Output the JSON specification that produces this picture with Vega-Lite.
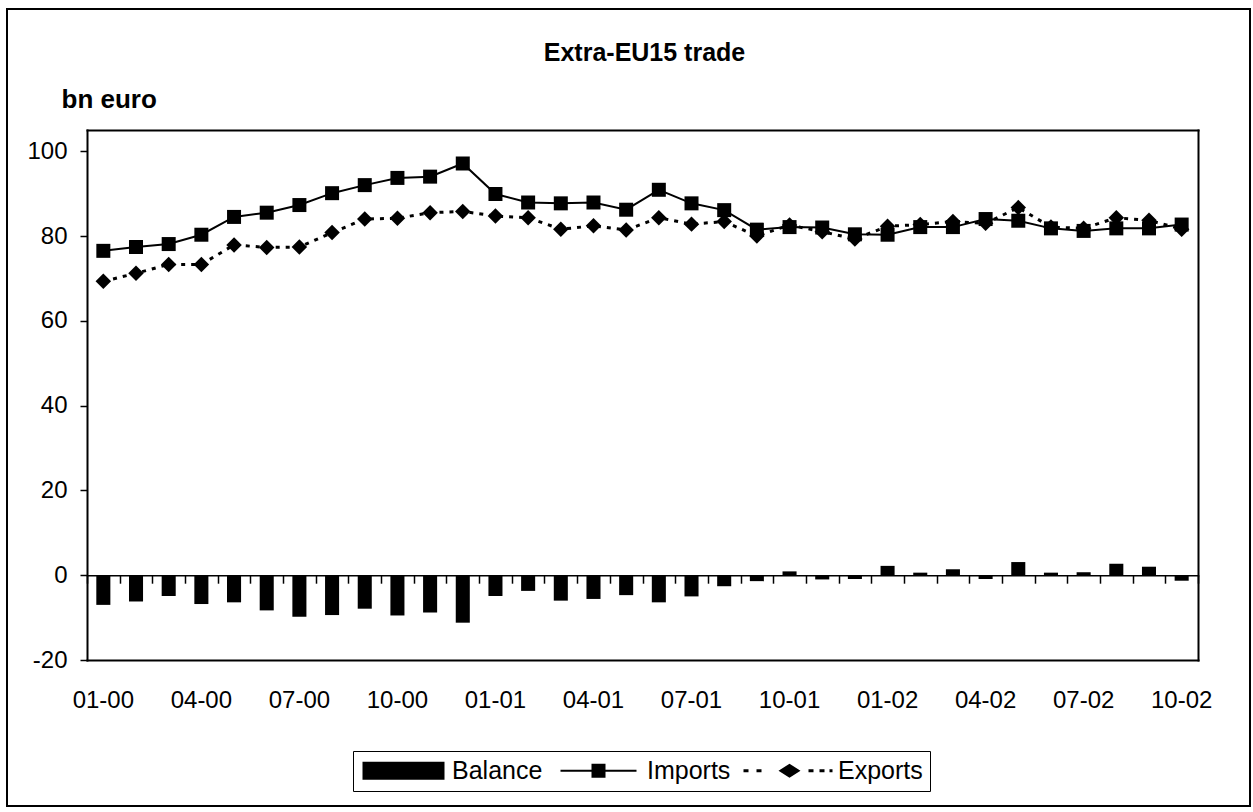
{
  "$schema": "https://vega.github.io/schema/vega-lite/v6.json",
  "width": 1243,
  "height": 797,
  "autosize": {"type": "none"},
  "padding": {"left": 7, "top": 9, "right": 3, "bottom": 6},
  "background": "white",
  "config": {
    "font": "Liberation Sans",
    "view": {"stroke": "black", "strokeWidth": 2},
    "axis": {"labelColor": "black", "tickColor": "black", "domainColor": "black", "titleColor": "black", "grid": false, "domainCap": "square"}
  },
  "title": {"text": "Extra-EU15 trade", "fontSize": 25, "fontWeight": "bold", "color": "black", "anchor": "middle", "baseline": "alphabetic", "offset": -77, "dx": 16},
  "data": {"values": [
    {"m": "01-00", "s": "Imports", "v": 76.5}, {"m": "02-00", "s": "Imports", "v": 77.4}, {"m": "03-00", "s": "Imports", "v": 78.1},
    {"m": "04-00", "s": "Imports", "v": 80.3}, {"m": "05-00", "s": "Imports", "v": 84.5}, {"m": "06-00", "s": "Imports", "v": 85.5},
    {"m": "07-00", "s": "Imports", "v": 87.3}, {"m": "08-00", "s": "Imports", "v": 90.1}, {"m": "09-00", "s": "Imports", "v": 92.0},
    {"m": "10-00", "s": "Imports", "v": 93.7}, {"m": "11-00", "s": "Imports", "v": 94.0}, {"m": "12-00", "s": "Imports", "v": 97.1},
    {"m": "01-01", "s": "Imports", "v": 89.9}, {"m": "02-01", "s": "Imports", "v": 87.9}, {"m": "03-01", "s": "Imports", "v": 87.7},
    {"m": "04-01", "s": "Imports", "v": 87.9}, {"m": "05-01", "s": "Imports", "v": 86.2}, {"m": "06-01", "s": "Imports", "v": 90.9},
    {"m": "07-01", "s": "Imports", "v": 87.7}, {"m": "08-01", "s": "Imports", "v": 86.1}, {"m": "09-01", "s": "Imports", "v": 81.5},
    {"m": "10-01", "s": "Imports", "v": 82.1}, {"m": "11-01", "s": "Imports", "v": 82.0}, {"m": "12-01", "s": "Imports", "v": 80.4},
    {"m": "01-02", "s": "Imports", "v": 80.3}, {"m": "02-02", "s": "Imports", "v": 82.1}, {"m": "03-02", "s": "Imports", "v": 82.1},
    {"m": "04-02", "s": "Imports", "v": 84.0}, {"m": "05-02", "s": "Imports", "v": 83.6}, {"m": "06-02", "s": "Imports", "v": 81.8},
    {"m": "07-02", "s": "Imports", "v": 81.2}, {"m": "08-02", "s": "Imports", "v": 81.8}, {"m": "09-02", "s": "Imports", "v": 81.8},
    {"m": "10-02", "s": "Imports", "v": 82.7},
    {"m": "01-00", "s": "Exports", "v": 69.3}, {"m": "02-00", "s": "Exports", "v": 71.2}, {"m": "03-00", "s": "Exports", "v": 73.3},
    {"m": "04-00", "s": "Exports", "v": 73.3}, {"m": "05-00", "s": "Exports", "v": 77.9}, {"m": "06-00", "s": "Exports", "v": 77.3},
    {"m": "07-00", "s": "Exports", "v": 77.4}, {"m": "08-00", "s": "Exports", "v": 80.8}, {"m": "09-00", "s": "Exports", "v": 84.0},
    {"m": "10-00", "s": "Exports", "v": 84.2}, {"m": "11-00", "s": "Exports", "v": 85.5}, {"m": "12-00", "s": "Exports", "v": 85.8},
    {"m": "01-01", "s": "Exports", "v": 84.7}, {"m": "02-01", "s": "Exports", "v": 84.3}, {"m": "03-01", "s": "Exports", "v": 81.6},
    {"m": "04-01", "s": "Exports", "v": 82.4}, {"m": "05-01", "s": "Exports", "v": 81.4}, {"m": "06-01", "s": "Exports", "v": 84.3},
    {"m": "07-01", "s": "Exports", "v": 82.8}, {"m": "08-01", "s": "Exports", "v": 83.4}, {"m": "09-01", "s": "Exports", "v": 80.0},
    {"m": "10-01", "s": "Exports", "v": 82.6}, {"m": "11-01", "s": "Exports", "v": 81.0}, {"m": "12-01", "s": "Exports", "v": 79.3},
    {"m": "01-02", "s": "Exports", "v": 82.3}, {"m": "02-02", "s": "Exports", "v": 82.7}, {"m": "03-02", "s": "Exports", "v": 83.4},
    {"m": "04-02", "s": "Exports", "v": 83.0}, {"m": "05-02", "s": "Exports", "v": 86.7}, {"m": "06-02", "s": "Exports", "v": 82.1},
    {"m": "07-02", "s": "Exports", "v": 81.8}, {"m": "08-02", "s": "Exports", "v": 84.3}, {"m": "09-02", "s": "Exports", "v": 83.7},
    {"m": "10-02", "s": "Exports", "v": 81.6},
    {"m": "01-00", "s": "Balance", "v": -7.0}, {"m": "02-00", "s": "Balance", "v": -6.2}, {"m": "03-00", "s": "Balance", "v": -4.9},
    {"m": "04-00", "s": "Balance", "v": -6.8}, {"m": "05-00", "s": "Balance", "v": -6.4}, {"m": "06-00", "s": "Balance", "v": -8.3},
    {"m": "07-00", "s": "Balance", "v": -9.8}, {"m": "08-00", "s": "Balance", "v": -9.4}, {"m": "09-00", "s": "Balance", "v": -7.9},
    {"m": "10-00", "s": "Balance", "v": -9.5}, {"m": "11-00", "s": "Balance", "v": -8.8}, {"m": "12-00", "s": "Balance", "v": -11.2},
    {"m": "01-01", "s": "Balance", "v": -4.9}, {"m": "02-01", "s": "Balance", "v": -3.7}, {"m": "03-01", "s": "Balance", "v": -6.0},
    {"m": "04-01", "s": "Balance", "v": -5.6}, {"m": "05-01", "s": "Balance", "v": -4.7}, {"m": "06-01", "s": "Balance", "v": -6.4},
    {"m": "07-01", "s": "Balance", "v": -5.0}, {"m": "08-01", "s": "Balance", "v": -2.6}, {"m": "09-01", "s": "Balance", "v": -1.4},
    {"m": "10-01", "s": "Balance", "v": 0.9}, {"m": "11-01", "s": "Balance", "v": -1.0}, {"m": "12-01", "s": "Balance", "v": -0.9},
    {"m": "01-02", "s": "Balance", "v": 2.2}, {"m": "02-02", "s": "Balance", "v": 0.6}, {"m": "03-02", "s": "Balance", "v": 1.4},
    {"m": "04-02", "s": "Balance", "v": -0.9}, {"m": "05-02", "s": "Balance", "v": 3.1}, {"m": "06-02", "s": "Balance", "v": 0.6},
    {"m": "07-02", "s": "Balance", "v": 0.7}, {"m": "08-02", "s": "Balance", "v": 2.7}, {"m": "09-02", "s": "Balance", "v": 2.0},
    {"m": "10-02", "s": "Balance", "v": -1.3}
  ]},
  "encoding": {
    "x": {"field": "m", "type": "ordinal", "sort": ["01-00","02-00","03-00","04-00","05-00","06-00","07-00","08-00","09-00","10-00","11-00","12-00","01-01","02-01","03-01","04-01","05-01","06-01","07-01","08-01","09-01","10-01","11-01","12-01","01-02","02-02","03-02","04-02","05-02","06-02","07-02","08-02","09-02","10-02"], "scale": {"paddingInner": 0, "paddingOuter": 0, "range": [80, 1191]}, "axis": null},
    "y": {"field": "v", "type": "quantitative", "scale": {"domain": [-20, 105], "nice": false, "zero": false, "range": [651, 121]}, "axis": null}
  },
  "layer": [
    {
      "transform": [{"filter": "datum.s === 'Balance'"}],
      "mark": {"type": "bar", "color": "black", "width": {"band": 0.43}},
      "encoding": {
        "x": {"field": "m", "type": "ordinal", "sort": ["01-00","02-00","03-00","04-00","05-00","06-00","07-00","08-00","09-00","10-00","11-00","12-00","01-01","02-01","03-01","04-01","05-01","06-01","07-01","08-01","09-01","10-01","11-01","12-01","01-02","02-02","03-02","04-02","05-02","06-02","07-02","08-02","09-02","10-02"], "scale": {"paddingInner": 0, "paddingOuter": 0, "range": [80, 1191]},
          "axis": {"orient": "bottom", "offset": -146, "values": ["01-00","04-00","07-00","10-00","01-01","04-01","07-01","10-01","01-02","04-02","07-02","10-02"], "ticks": false, "domain": true, "domainWidth": 2, "labelAngle": 0, "labelFontSize": 24, "labelPadding": 28, "title": null}},
        "y": {"field": "v", "type": "quantitative", "scale": {"domain": [-20, 105], "nice": false, "zero": false, "range": [651, 121]},
          "axis": {"orient": "left", "offset": -80, "title": "bn euro", "titleAngle": 0, "titleAlign": "left", "titleBaseline": "alphabetic", "titleX": -26, "titleY": 98, "titleFontSize": 26, "titleFontWeight": "bold", "values": [-20, 0, 20, 40, 60, 80, 100], "labelExpr": "replace(datum.label, '\u2212', '-')", "tickSize": 7, "tickWidth": 1.5, "labelFontSize": 24, "labelPadding": 13, "domain": true, "domainWidth": 2}}
      }
    },
    {
      "transform": [{"filter": "datum.s === 'Imports'"}],
      "mark": {"type": "line", "color": "black", "strokeWidth": 2},
      "encoding": {
        "x": {"field": "m", "type": "ordinal", "sort": ["01-00","02-00","03-00","04-00","05-00","06-00","07-00","08-00","09-00","10-00","11-00","12-00","01-01","02-01","03-01","04-01","05-01","06-01","07-01","08-01","09-01","10-01","11-01","12-01","01-02","02-02","03-02","04-02","05-02","06-02","07-02","08-02","09-02","10-02"], "scale": {"paddingInner": 0, "paddingOuter": 0, "range": [80, 1191]},
          "axis": {"orient": "bottom", "offset": -230.8, "labels": false, "ticks": true, "tickBand": "extent", "tickSize": 8, "tickWidth": 1.5, "domain": true, "domainWidth": 1.5, "title": null, "zindex": 1}},
        "y": {"field": "v", "type": "quantitative", "scale": {"domain": [-20, 105], "nice": false, "zero": false, "range": [651, 121]},
          "axis": {"orient": "right", "offset": -52, "labels": false, "ticks": false, "domain": true, "domainWidth": 2, "title": null}}
      }
    },
    {
      "transform": [{"filter": "datum.s === 'Imports'"}],
      "mark": {"type": "point", "shape": "square", "filled": true, "color": "black", "size": 196, "opacity": 1},
      "encoding": {
        "x": {"field": "m", "type": "ordinal", "sort": ["01-00","02-00","03-00","04-00","05-00","06-00","07-00","08-00","09-00","10-00","11-00","12-00","01-01","02-01","03-01","04-01","05-01","06-01","07-01","08-01","09-01","10-01","11-01","12-01","01-02","02-02","03-02","04-02","05-02","06-02","07-02","08-02","09-02","10-02"], "scale": {"paddingInner": 0, "paddingOuter": 0, "range": [80, 1191]},
          "axis": {"orient": "top", "offset": -121, "labels": false, "ticks": false, "domain": true, "domainWidth": 2, "title": null}}
      }
    },
    {
      "transform": [{"filter": "datum.s === 'Exports'"}],
      "mark": {"type": "line", "color": "black", "strokeWidth": 3, "strokeDash": [4, 6]}
    },
    {
      "transform": [{"filter": "datum.s === 'Exports'"}],
      "mark": {"type": "point", "shape": "diamond", "filled": true, "color": "black", "size": 240, "opacity": 1}
    },
    {
      "mark": {"type": "point", "filled": true, "color": "black", "opacity": 0, "size": 400},
      "encoding": {
        "shape": {"field": "s", "type": "nominal",
          "scale": {"domain": ["Balance", "Imports", "Exports"],
            "range": [
              "M-4.1,-0.9H4.1V0.9H-4.1Z",
              "M-3.8,-0.1H3.8V0.1H-3.8Z M-0.7,-0.7H0.7V0.7H-0.7Z",
              "M-4.6,-0.15H-4.1V0.15H-4.6Z M-3.3,-0.15H-2.8V0.15H-3.3Z M-1.1,0L0,-0.7L1.1,0L0,0.7Z M1.9,-0.15H2.4V0.15H1.9Z M3.0,-0.15H3.5V0.15H3.0Z M4.0,-0.15H4.3V0.15H4.0Z"
            ]},
          "legend": {"title": null, "orient": "none", "legendX": 346, "legendY": 742, "direction": "horizontal", "strokeColor": "black", "padding": 7, "labelFontSize": 25, "labelColor": "black", "symbolSize": 400, "symbolOffset": 31, "labelOffset": 36, "columnPadding": 12, "symbolOpacity": 1, "symbolStrokeWidth": 0, "symbolFillColor": "black"}}
      }
    }
  ],
  "resolve": {"axis": {"x": "independent", "y": "independent"}}
}
